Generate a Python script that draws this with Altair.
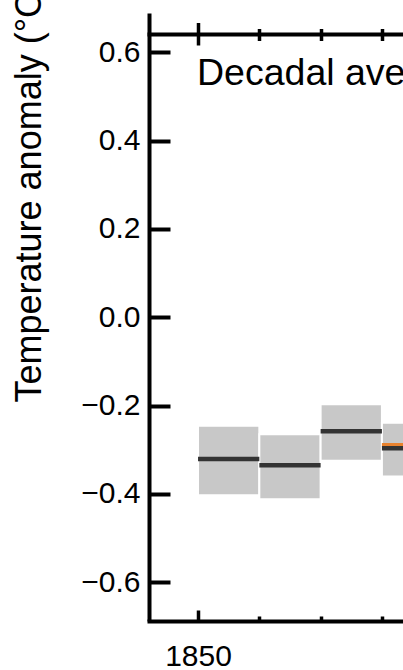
import altair as alt
import pandas as pd

# ---- data ----
decade_start = [1850, 1860, 1870, 1880]
decade_end = [1860, 1870, 1880, 1890]
black_mean = [-0.321, -0.335, -0.258, -0.297]
unc_low = [-0.403, -0.412, -0.325, -0.361]
unc_high = [-0.246, -0.265, -0.197, -0.239]

orange_start = [1880]
orange_end = [1890]
orange_mean = [-0.289]

y_tick_values = [-0.6, -0.4, -0.2, 0.0, 0.2, 0.4, 0.6]
x_label_values = [1850]
x_major_ticks = [1850]
x_minor_ticks = [1860, 1870, 1880]

panel_text = ["Decadal average"]
y_title = "Temperature anomaly (°C)"

FONT = "Liberation Sans"

df = pd.DataFrame({
    "start": decade_start,
    "end": decade_end,
    "mean": black_mean,
    "low": unc_low,
    "high": unc_high,
})
df_orange = pd.DataFrame({"start": orange_start, "end": orange_end, "mean": orange_mean})
df_text = pd.DataFrame({"label": panel_text})

xs = alt.Scale(domain=[1842.0, 1883.44], nice=False, zero=False)
ys = alt.Scale(domain=[-0.688, 0.689], nice=False, zero=False)

main_x_axis = alt.Axis(
    orient="bottom", values=x_label_values, format="d", ticks=False, tickSize=0,
    domain=True, domainWidth=4, domainColor="black", domainCap="square",
    labelFont=FONT, labelFontSize=30, labelColor="black", labelPadding=20,
    labelFlush=False, grid=False, title=None,
)
main_y_axis = alt.Axis(
    orient="left", values=y_tick_values, format=".1f", ticks=False, tickSize=0,
    domain=True, domainWidth=4, domainColor="black", domainCap="butt",
    labelFont=FONT, labelFontSize=30, labelColor="black", labelPadding=9,
    grid=False, title=y_title, titleFont=FONT, titleFontSize=36,
    titleFontWeight="normal", titleColor="black", titleAngle=270,
    titleAlign="left", titleBaseline="alphabetic", titleX=-109, titleY=389,
)

boxes = alt.Chart(df).mark_rect(color="#c8c8c8", stroke="white", strokeWidth=2, clip=True).encode(
    x=alt.X("start:Q", scale=xs, axis=main_x_axis),
    x2="end:Q",
    y=alt.Y("low:Q", scale=ys, axis=main_y_axis),
    y2="high:Q",
)

top_axis = alt.Axis(
    orient="top", offset=-21, values=x_major_ticks, tickSize=11.5, tickWidth=3.5,
    tickColor="black", domain=True, domainWidth=4, domainColor="black",
    domainCap="square", labels=False, grid=False, title=None,
)
y_tick_axis = alt.Axis(
    orient="left", offset=-21, values=y_tick_values, tickSize=21, tickWidth=4,
    tickColor="black", domain=False, labels=False, grid=False, title=None,
)

orange = alt.Chart(df_orange).mark_rule(color="#e8822e", strokeWidth=3.5, clip=True).encode(
    x=alt.X("start:Q", scale=xs, axis=None),
    x2="end:Q",
    y=alt.Y("mean:Q", scale=ys, axis=None),
)

black = alt.Chart(df).mark_rule(color="#333333", strokeWidth=4.5, clip=True).encode(
    x=alt.X("start:Q", scale=xs, axis=top_axis),
    x2="end:Q",
    y=alt.Y("mean:Q", scale=ys, axis=y_tick_axis),
)


def tick_layer(orient, offset, size, values):
    return alt.Chart(df).mark_point(opacity=0).encode(
        x=alt.X("start:Q", scale=xs, axis=alt.Axis(
            orient=orient, offset=offset, tickSize=size, values=values,
            tickWidth=3.5, tickColor="black", domain=False, labels=False,
            grid=False, title=None)),
        y=alt.Y("mean:Q", scale=ys, axis=None),
    )


top_minor_out = tick_layer("top", -21, 5.5, x_minor_ticks)
top_major_in = tick_layer("top", -32, 11, x_major_ticks)
top_minor_in = tick_layer("top", -27.5, 6.5, x_minor_ticks)
bottom_major_in = tick_layer("bottom", -11, 11, x_major_ticks)
bottom_minor_in = tick_layer("bottom", -5, 5, x_minor_ticks)

label = alt.Chart(df_text).mark_text(
    font=FONT, fontSize=37.5, color="black", align="left", baseline="alphabetic", clip=True
).encode(
    x=alt.value(48),
    y=alt.value(72),
    text="label:N",
)

chart = alt.layer(
    boxes, orange, black, top_minor_out, top_major_in, top_minor_in,
    bottom_major_in, bottom_minor_in, label,
).resolve_axis(x="independent", y="independent").properties(
    width=254,
    height=608,
    padding={"left": 149, "top": 13, "right": 0, "bottom": 49},
    autosize=alt.AutoSizeParams(type="none"),
    background="white",
).configure_view(stroke=None)

chart.save("out.html", embed_options={"renderer": "svg", "actions": False})
